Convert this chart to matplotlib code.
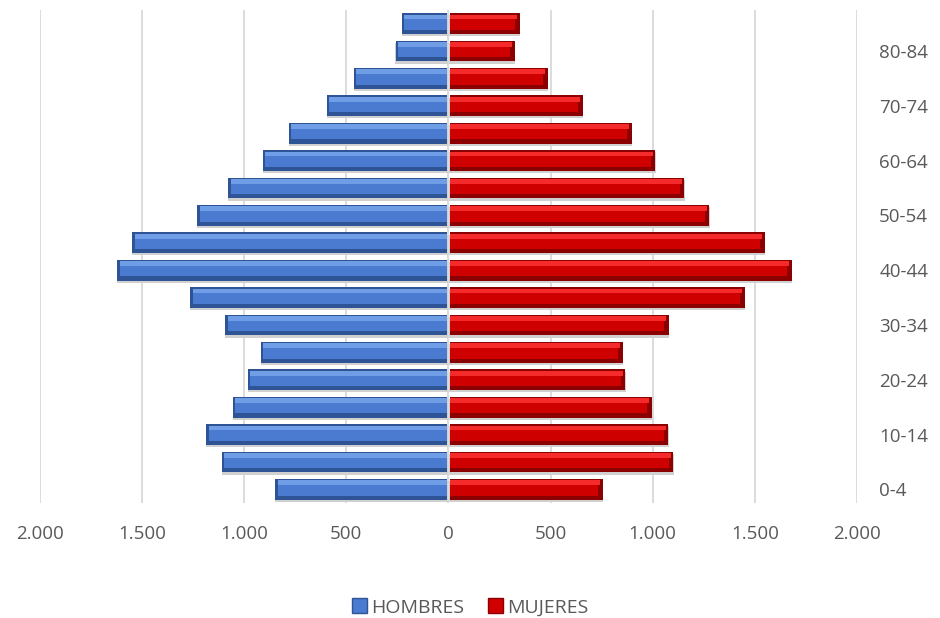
import numpy as np
import matplotlib.pyplot as plt
from matplotlib.ticker import FuncFormatter
from matplotlib.patches import Patch

#********************************************#
# data: population by age group
grupos = ['0-4', '5-9', '10-14', '15-19', '20-24', '25-29', '30-34', '35-39',
          '40-44', '45-49', '50-54', '55-59', '60-64', '65-69', '70-74',
          '75-79', '80-84', '85+']
hombres = [841, 1101, 1179, 1047, 974, 910, 1086, 1257, 1614, 1541,
           1223, 1071, 900, 773, 587, 455, 250, 220]
mujeres = [747, 1093, 1068, 988, 858, 846, 1070, 1442, 1673, 1541,
           1269, 1146, 1005, 890, 649, 478, 316, 341]

#********************************************#
plt.rcParams['font.family'] = ['Open Sans', 'DejaVu Sans']
fig = plt.figure(figsize=(9.4, 6.18), dpi=100)
ax = fig.add_axes([0.0426, 0.186, 0.869, 0.798])

y = np.arange(len(grupos))
h = np.array(hombres)
m = np.array(mujeres)
hgt = 0.76

# soft shadow
ax.barh(y - 0.08, -h - 8, height=hgt, left=-2, color='#d0d0d0', zorder=2)
ax.barh(y - 0.08, m + 8, height=hgt, left=2, color='#d0d0d0', zorder=2)

# base bars (dark edge of the bevel)
ax.barh(y, -h, height=hgt, left=-8, color='#2f5496', zorder=3)
ax.barh(y, m, height=hgt, left=8, color='#8b0000', zorder=3)
# body
ax.barh(y + 0.05, -h + 12, height=hgt - 0.2, left=-8, color='#4a7bd0', zorder=4)
ax.barh(y + 0.05, m - 22, height=hgt - 0.2, left=8, color='#cf0000', zorder=4)
# top highlight
ax.barh(y + 0.24, -h + 12, height=0.18, left=-8, color='#6f9de6', zorder=5)
ax.barh(y + 0.24, m - 12, height=0.18, left=8, color='#f52a2a', zorder=5)

ax.set_xlim(-2000, 2000)
ax.set_ylim(-0.5, len(grupos) - 0.5)
ax.set_xticks(np.arange(-2000, 2001, 500))
ax.xaxis.set_major_formatter(FuncFormatter(lambda v, p: f'{abs(int(v)):,}'.replace(',', '.')))
ax.grid(axis='x', color='#d9d9d9', linewidth=1.3, zorder=0)
ax.set_axisbelow(True)

ax.yaxis.tick_right()
ax.set_yticks(y[::2])
ax.set_yticklabels(grupos[::2])
ax.tick_params(axis='y', length=0, pad=16, labelsize=13.5, labelcolor='#595959')
ax.tick_params(axis='x', length=0, pad=16, labelsize=13.5, labelcolor='#595959')
for s in ax.spines.values():
    s.set_visible(False)

handles = [Patch(facecolor='#4a7bd0', edgecolor='#2f5496', label='HOMBRES'),
           Patch(facecolor='#cf0000', edgecolor='#8b0000', label='MUJERES')]
fig.legend(handles=handles, loc='center', bbox_to_anchor=(0.5, 0.017), ncol=2,
           frameon=False, fontsize=14, labelcolor='#595959',
           handlelength=0.8, handleheight=0.8, handletextpad=0.2, columnspacing=1.2)

fig.savefig('out.png', dpi=100)
